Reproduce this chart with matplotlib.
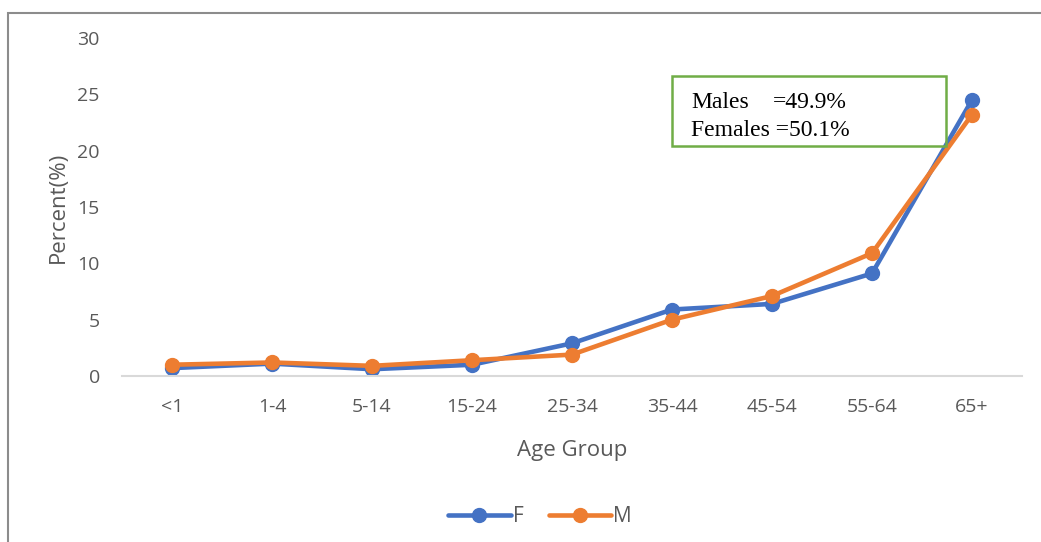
import matplotlib
matplotlib.use("Agg")
import matplotlib.pyplot as plt
from matplotlib.patches import Rectangle

# data
age_groups = ["<1", "1-4", "5-14", "15-24", "25-34", "35-44", "45-54", "55-64", "65+"]
female = [0.7, 1.1, 0.6, 1.0, 2.9, 5.9, 6.4, 9.1, 24.5]
male = [1.0, 1.2, 0.9, 1.4, 1.9, 5.0, 7.1, 10.9, 23.2]
y_ticks = [0, 5, 10, 15, 20, 25, 30]

blue = "#4472C4"
orange = "#ED7D31"
grey = "#595959"

plt.rcParams["font.family"] = ["Open Sans", "DejaVu Sans"]

W, H = 1041, 542
fig = plt.figure(figsize=(W / 100, H / 100), dpi=100)
ax = fig.add_axes([122 / W, (H - 376) / H, (1022 - 122) / W, (376 - 38) / H])

x = range(len(age_groups))
ax.plot(x, female, color=blue, lw=3.3, marker="o", ms=10, label="F",
        solid_joinstyle="round", solid_capstyle="round")
ax.plot(x, male, color=orange, lw=3.3, marker="o", ms=10, label="M",
        solid_joinstyle="round", solid_capstyle="round")

ax.set_xlim(-0.5, len(age_groups) - 0.5)
ax.set_ylim(0, 30)
ax.set_yticks(y_ticks)
ax.set_xticks(list(x))
ax.set_xticklabels(age_groups)

for s in ["top", "right", "left"]:
    ax.spines[s].set_visible(False)
ax.spines["bottom"].set_color("#D9D9D9")
ax.spines["bottom"].set_linewidth(1.5)
ax.tick_params(axis="both", length=0, labelsize=14, colors=grey)
ax.tick_params(axis="y", pad=16)
ax.tick_params(axis="x", pad=16)

ax.set_xlabel("Age Group", fontsize=16, color=grey, labelpad=17)
ax.set_ylabel("Percent(%)", fontsize=16, color=grey, labelpad=6)

# note box with the sex ratio
box = Rectangle((672 / W, (H - 146) / H), (946 - 672) / W, 70 / H,
                transform=fig.transFigure, fill=False, edgecolor="#70AD47", lw=1.8)
fig.add_artist(box)
fig.text(691 / W, (H - 108) / H, "Males", family="Liberation Serif",
         fontsize=17, color="black")
fig.text(773 / W, (H - 108) / H, "=49.9%", family="Liberation Serif",
         fontsize=17, color="black")
fig.text(691 / W, (H - 136) / H, "Females =50.1%", family="Liberation Serif",
         fontsize=17, color="black")

leg = fig.legend(loc="center", bbox_to_anchor=(540 / W, (H - 517) / H), ncol=2,
                 frameon=False, fontsize=15, handlelength=3.0, columnspacing=1.2,
                 handletextpad=0.1)
for t in leg.get_texts():
    t.set_color(grey)

# outer chart border
fig.add_artist(Rectangle((8 / W, -0.05), 1.2, (H - 13) / H + 0.05,
                         transform=fig.transFigure, fill=False,
                         edgecolor="#8C8C8C", lw=1.5))

fig.savefig("out.png", dpi=100)
